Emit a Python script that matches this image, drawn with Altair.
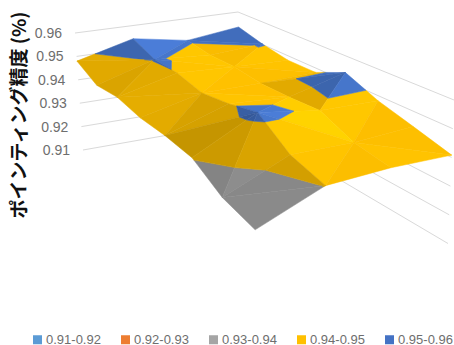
import altair as alt
import numpy as np
import pandas as pd

# Surface heights: rows run along the left-to-front edge, columns from that edge to the back-to-right edge
row0 = [0.9480, 0.9543, 0.9503, 0.9532]
row1 = [0.9432, 0.9503, 0.9488, 0.9502]
row2 = [0.9440, 0.9499, 0.9489, 0.9481]
row3 = [0.9420, 0.9475, 0.9475, 0.9482]
row4 = [0.9417, 0.9492, 0.9477, 0.9534]
row5 = [0.9404, 0.9520, 0.9485, 0.9481]
row6 = [0.9340, 0.9435, 0.9432, 0.9445]
row7 = [0.9312, 0.9402, 0.9412, 0.9408]
heights = np.array([row0, row1, row2, row3, row4, row5, row6, row7])

# Cells whose fold runs against the usual alternating pattern
flipped_cells = [(3, 2), (4, 2)]

tick_values = [0.91, 0.92, 0.93, 0.94, 0.95, 0.96]
tick_labels = ["0.91", "0.92", "0.93", "0.94", "0.95", "0.96"]
band_labels = ["0.91-0.92", "0.92-0.93", "0.93-0.94", "0.94-0.95", "0.95-0.96"]
band_colors = ["#5B9BD5", "#ED7D31", "#A5A5A5", "#FFC000", "#4472C4"]
axis_title = "ポインティング精度 (%)"

W, H = 454, 345
Z_MIN, Z_MAX = 0.91, 0.96

# Corners of the plot box in view space: left, back, right, front
FLOOR = [(83, 150), (242, 122), (448, 243.5), (256, 296)]
TOP = [(75, 33), (238, 12), (454, 100), (254, 140)]
UNIT = [(0, 0), (0, 1), (1, 1), (1, 0)]


def homography(dst):
    a, b = [], []
    for (u, v), (x, y) in zip(UNIT, dst):
        a.append([u, v, 1, 0, 0, 0, -u * x, -v * x])
        a.append([0, 0, 0, u, v, 1, -u * y, -v * y])
        b += [x, y]
    return np.append(np.linalg.solve(np.array(a, float), np.array(b, float)), 1).reshape(3, 3)


HF, HT = homography(FLOOR), homography(TOP)


def project(u, v, z):
    t = (z - Z_MIN) / (Z_MAX - Z_MIN)
    pf = HF @ [u, v, 1]
    pt = HT @ [u, v, 1]
    pf, pt = pf[:2] / pf[2], pt[:2] / pt[2]
    return pf + (pt - pf) * t


def clip(poly, lo, hi):
    """Keep the part of a polygon (i, j, z) whose z lies between lo and hi."""
    for limit, sign in ((lo, 1), (hi, -1)):
        out = []
        for k, p in enumerate(poly):
            q = poly[(k + 1) % len(poly)]
            dp, dq = sign * (p[2] - limit), sign * (q[2] - limit)
            if dp >= 0:
                out.append(p)
            if dp * dq < 0:
                f = dp / (dp - dq)
                out.append(tuple(np.array(p) + (np.array(q) - np.array(p)) * f))
        poly = out
        if not poly:
            return []
    return poly


def shade(tri, rgb):
    (a, b, c) = [np.array(p) for p in tri]
    n = np.cross(b - a, c - a)
    di, dj = -n[0] / n[2] * 100, -n[1] / n[2] * 100
    s = np.clip(1 - 0.20 * dj - 0.05 * di, 0.72, 1.12)
    r, g, bl = [min(255, int(round(ch * s))) for ch in rgb]
    return f"#{r:02x}{g:02x}{bl:02x}"


BANDS = [(0.90, 0.94, (165, 165, 165)), (0.94, 0.95, (255, 192, 0)), (0.95, 0.97, (68, 114, 196))]
NI, NJ = heights.shape
rows = []
pid = 0
# Paint from the far corner towards the viewer
for i in range(NI - 1):
    for j in range(NJ - 2, -1, -1):
        z = lambda a, b: (a, b, heights[a, b])
        anti = (i + j) % 2 == 1
        if (i, j) in flipped_cells:
            anti = not anti
        if anti:
            tris = [[z(i, j), z(i, j + 1), z(i + 1, j)], [z(i, j + 1), z(i + 1, j + 1), z(i + 1, j)]]
        else:
            tris = [[z(i, j), z(i, j + 1), z(i + 1, j + 1)], [z(i, j), z(i + 1, j + 1), z(i + 1, j)]]
        for tri in tris:
            for lo, hi, rgb in BANDS:
                piece = clip(tri, lo, hi)
                if len(piece) < 3:
                    continue
                col = shade(tri, rgb)
                for k, (pi, pj, pz) in enumerate(piece):
                    x, y = project(pi / (NI - 1), pj / (NJ - 1), pz)
                    rows.append({"pid": pid, "ord": k, "x": x, "y": y, "col": col})
                pid += 1
surface = pd.DataFrame(rows)

# Wall gridlines at each tick value: left corner, back corner, right corner
grid_rows = []
for tv in tick_values:
    for k, (u, v) in enumerate([(0, 0), (0, 1), (1, 1)]):
        x, y = project(u, v, tv)
        grid_rows.append({"tick": tv, "ord": k, "x": x, "y": y})
grid = pd.DataFrame(grid_rows)

label_rows = []
for tv, lab in zip(tick_values, tick_labels):
    x, y = project(0, 0, tv)
    label_rows.append({"x": x - 13, "y": y + 1, "label": lab})
labels = pd.DataFrame(label_rows)

X = alt.X("x:Q", scale=alt.Scale(domain=[0, W]), axis=None)
Y = alt.Y("y:Q", scale=alt.Scale(domain=[H, 0]), axis=None)

grid_layer = alt.Chart(grid).mark_line(color="#D9D9D9", strokeWidth=1).encode(
    x=X, y=Y, detail="tick:N", order="ord:Q"
)
surface_layer = alt.Chart(surface).mark_line(interpolate="linear-closed", strokeWidth=0.5).encode(
    x=X,
    y=Y,
    detail="pid:N",
    order="ord:Q",
    fill=alt.Fill("col:N", scale=None),
    stroke=alt.Stroke("col:N", scale=None),
)
label_layer = alt.Chart(labels).mark_text(
    align="right", baseline="middle", font="Liberation Sans", fontSize=14, color="#6E6E6E"
).encode(x=X, y=Y, text="label:N")
title_layer = alt.Chart(pd.DataFrame({"x": [20], "y": [115], "t": [axis_title]})).mark_text(
    angle=270, align="center", baseline="middle", font="Noto Sans CJK JP", fontSize=19, fontWeight="bold", color="#111111"
).encode(x=X, y=Y, text="t:N")
legend_layer = alt.Chart(pd.DataFrame({"band": band_labels, "x": [0] * 5, "y": [0] * 5})).mark_square(opacity=0).encode(
    x=X,
    y=Y,
    color=alt.Color(
        "band:N",
        scale=alt.Scale(domain=band_labels, range=band_colors),
        legend=alt.Legend(
            orient="none", legendX=31, legendY=333, direction="horizontal", columns=5, title=None,
            symbolType="square", symbolSize=81, symbolOpacity=1, symbolStrokeWidth=0,
            labelFont="Liberation Sans", labelFontSize=13, labelColor="#6E6E6E",
            columnPadding=18, labelOffset=2,
        ),
    ),
)

chart = alt.layer(grid_layer, surface_layer, label_layer, title_layer, legend_layer).properties(
    width=W, height=H, padding=0, autosize=alt.AutoSizeParams(type="none")
).configure_view(stroke=None)

chart.save("out.html", embed_options={"renderer": "svg", "actions": False})
